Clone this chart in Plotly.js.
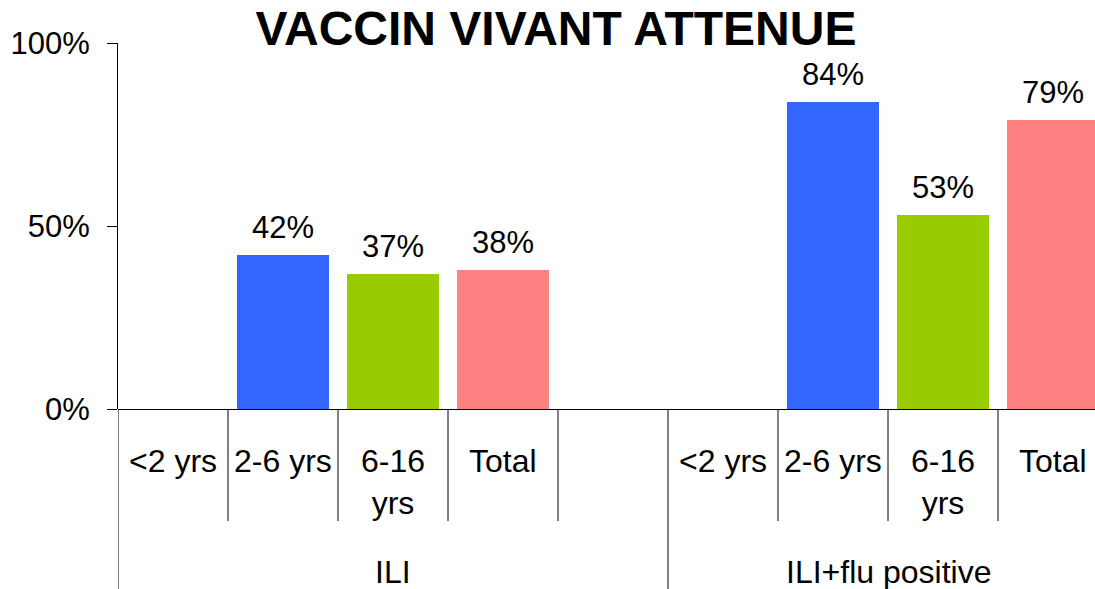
<!DOCTYPE html>
<html>
<head>
<meta charset="utf-8">
<script src="https://cdn.plot.ly/plotly-3.0.1.min.js"></script>
<style>html,body{margin:0;padding:0;background:#fff;}#chart{width:1095px;height:589px;}</style>
</head>
<body>
<div id="chart"></div>
<script>
// ---- data ----
const chartTitle = 'VACCIN VIVANT ATTENUE';
const groups = ['ILI', 'ILI+flu positive'];
const ageGroups = ['<2 yrs', '2-6 yrs', '6-16<br>yrs', 'Total'];
const valuesILI = [null, 42, 37, 38];
const valuesFluPositive = [null, 84, 53, 79];
const barColors = ['#3366FF', '#3366FF', '#99CC00', '#FF8080'];
const yTickVals = [0, 50, 100];
const yTickText = ['0%', '50%', '100%'];

// ---- layout constants ----
const W = 1095, H = 589;
const mL = 118, mT = 43, mB = 180;
const plotH = H - mT - mB;
const groupSlots = [5, 4]; // ILI group has a trailing empty slot
const seriesByGroup = [valuesILI, valuesFluPositive];
const FONT = 'Liberation Sans, Arial, sans-serif';
const TXT = 32, NUM = 31;
const px2paper = (py) => (H - mB - py) / plotH;

const xs = [], ys = [], cols = [];
const annotations = [];
const shapes = [];
let offset = 0;
groups.forEach((g, gi) => {
  const vals = seriesByGroup[gi];
  ageGroups.forEach((a, ai) => {
    const x = offset + ai;
    xs.push(x); ys.push(vals[ai]); cols.push(barColors[ai]);
    if (vals[ai] !== null) {
      annotations.push({x: x, y: vals[ai], xref: 'x', yref: 'y', text: vals[ai] + '%',
        showarrow: false, yanchor: 'bottom', yshift: 8,
        font: {family: FONT, size: NUM, color: '#000'}});
    }
    const nLines = a.split('<br>').length;
    annotations.push({x: x, y: px2paper(461 + (nLines - 1) * 20.5), xref: 'x', yref: 'paper',
      text: a, showarrow: false, yanchor: 'middle',
      font: {family: FONT, size: TXT, color: '#000'}});
  });
  // group label
  annotations.push({x: offset + (groupSlots[gi] === 5 ? 2 : 1.5), y: px2paper(572), xref: 'x', yref: 'paper',
    text: g, showarrow: false, yanchor: 'middle',
    font: {family: FONT, size: TXT, color: '#000'}});
  // separators
  for (let k = 0; k < groupSlots[gi]; k++) {
    const sx = offset + k - 0.5;
    const long = (k === 0);
    shapes.push({type: 'line', xref: 'x', yref: 'paper', x0: sx, x1: sx,
      y0: 0, y1: long ? px2paper(H) : px2paper(521),
      line: {color: '#000', width: 1}});
  }
  offset += groupSlots[gi];
});

const slotPx = 110;
const plotW = W - mL;
const xMax = -0.5 + plotW / slotPx;

const trace = {
  type: 'bar', x: xs, y: ys, width: 0.836,
  marker: {color: cols, line: {width: 0}},
  hoverinfo: 'skip', showlegend: false
};

const layout = {
  width: W, height: H,
  margin: {l: mL, r: 0, t: mT, b: mB, pad: 0},
  paper_bgcolor: '#fff', plot_bgcolor: '#fff',
  title: {text: '<b>' + chartTitle + '</b>', xref: 'container', yref: 'container',
    x: 556 / W, xanchor: 'center', y: 1 - 28 / H, yanchor: 'middle',
    font: {family: FONT, size: 48, color: '#000'}},
  xaxis: {range: [-0.5, xMax], showticklabels: false, ticks: '', showgrid: false,
    zeroline: false, showline: false, fixedrange: true},
  yaxis: {range: [0, 100], tickvals: yTickVals, ticktext: yTickText, ticks: 'outside',
    ticklen: 10, tickcolor: '#000', tickwidth: 1, showgrid: false, zeroline: true,
    zerolinecolor: '#000', zerolinewidth: 1, showline: true, linecolor: '#000', linewidth: 1,
    ticklabelstandoff: 11,
    tickfont: {family: FONT, size: NUM, color: '#000'}, fixedrange: true},
  annotations: annotations,
  shapes: shapes,
  bargap: 0
};

Plotly.newPlot('chart', [trace], layout, {displayModeBar: false, staticPlot: true});
</script>
</body>
</html>
